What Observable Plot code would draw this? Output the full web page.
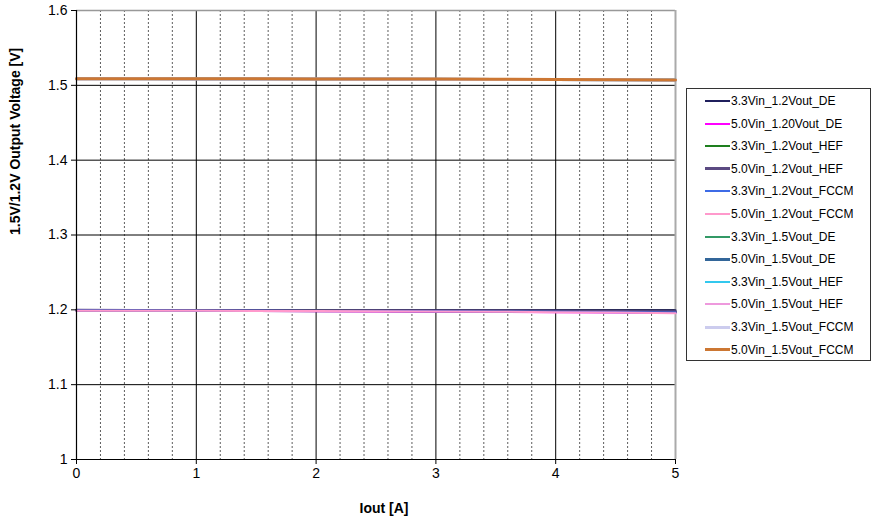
<!DOCTYPE html>
<html>
<head>
<meta charset="utf-8">
<script src="https://cdn.jsdelivr.net/npm/d3@7"></script>
<script src="https://cdn.jsdelivr.net/npm/@observablehq/plot@0.6"></script>
<style>
  html, body { margin: 0; padding: 0; background: #fff; }
  #wrap { position: relative; width: 881px; height: 527px; font-family: "Liberation Sans", Arial, sans-serif; }
  #legend { position: absolute; left: 686px; top: 88px; width: 185px; height: 273px; border: 1px solid #333; box-sizing: border-box; background: #fff; }
  .item { position: absolute; left: 18px; height: 14px; display: flex; align-items: center; font-size: 12px; color: #000; white-space: nowrap; }
  .sw { width: 25px; margin-right: 1px; }
</style>
</head>
<body>
<div id="wrap">
  <div id="chart"></div>
  <div id="legend"></div>
</div>
<script>
// ---- data ----
const iout = [0, 0.5, 1, 1.5, 2, 2.5, 3, 3.5, 4, 4.5, 5];

const seriesNames = [
  "3.3Vin_1.2Vout_DE", "5.0Vin_1.20Vout_DE", "3.3Vin_1.2Vout_HEF", "5.0Vin_1.2Vout_HEF",
  "3.3Vin_1.2Vout_FCCM", "5.0Vin_1.2Vout_FCCM", "3.3Vin_1.5Vout_DE", "5.0Vin_1.5Vout_DE",
  "3.3Vin_1.5Vout_HEF", "5.0Vin_1.5Vout_HEF", "3.3Vin_1.5Vout_FCCM", "5.0Vin_1.5Vout_FCCM"
];
const seriesColors = [
  "#1f1f5c", "#ff00ff", "#1e7f1e", "#5b4a82", "#3d6be6", "#ff99cc",
  "#339966", "#336699", "#33c8ee", "#ee99dd", "#ccccee", "#cc7733"
];
const seriesWidths = [2, 2, 2, 3, 2, 2, 2, 3, 2, 2, 3, 3];

const v_33_12_DE   = [1.1996, 1.1996, 1.1996, 1.1995, 1.1995, 1.1995, 1.1995, 1.1994, 1.1994, 1.1994, 1.1993];
const v_50_12_DE   = [1.1989, 1.1988, 1.1986, 1.1984, 1.1982, 1.1979, 1.1976, 1.1972, 1.1968, 1.1963, 1.1957];
const v_33_12_HEF  = [1.1992, 1.1991, 1.1990, 1.1989, 1.1987, 1.1985, 1.1983, 1.1980, 1.1977, 1.1973, 1.1969];
const v_50_12_HEF  = [1.1993, 1.1992, 1.1991, 1.1990, 1.1989, 1.1988, 1.1986, 1.1984, 1.1982, 1.1979, 1.1976];
const v_33_12_FCCM = [1.1991, 1.1990, 1.1989, 1.1987, 1.1985, 1.1983, 1.1980, 1.1977, 1.1973, 1.1968, 1.1963];
const v_50_12_FCCM = [1.1989, 1.1988, 1.1987, 1.1985, 1.1983, 1.1981, 1.1978, 1.1974, 1.1969, 1.1963, 1.1955];
const v_33_15_DE   = [1.5088, 1.5088, 1.5087, 1.5086, 1.5085, 1.5084, 1.5083, 1.5081, 1.5079, 1.5077, 1.5075];
const v_50_15_DE   = [1.5087, 1.5087, 1.5086, 1.5085, 1.5084, 1.5083, 1.5081, 1.5079, 1.5077, 1.5074, 1.5071];
const v_33_15_HEF  = [1.5088, 1.5088, 1.5087, 1.5086, 1.5085, 1.5083, 1.5082, 1.5080, 1.5078, 1.5076, 1.5073];
const v_50_15_HEF  = [1.5087, 1.5087, 1.5086, 1.5085, 1.5084, 1.5082, 1.5080, 1.5078, 1.5076, 1.5073, 1.5070];
const v_33_15_FCCM = [1.5086, 1.5087, 1.5086, 1.5085, 1.5084, 1.5083, 1.5081, 1.5079, 1.5077, 1.5075, 1.5072];
const v_50_15_FCCM = [1.5089, 1.5089, 1.5088, 1.5087, 1.5086, 1.5085, 1.5083, 1.5081, 1.5078, 1.5075, 1.5071];

const seriesValues = [
  v_33_12_DE, v_50_12_DE, v_33_12_HEF, v_50_12_HEF, v_33_12_FCCM, v_50_12_FCCM,
  v_33_15_DE, v_50_15_DE, v_33_15_HEF, v_50_15_HEF, v_33_15_FCCM, v_50_15_FCCM
];

const xTicks = [0, 1, 2, 3, 4, 5];
const xMinor = [0.2, 0.4, 0.6, 0.8, 1.2, 1.4, 1.6, 1.8, 2.2, 2.4, 2.6, 2.8, 3.2, 3.4, 3.6, 3.8, 4.2, 4.4, 4.6, 4.8];
const yTicks = [1, 1.1, 1.2, 1.3, 1.4, 1.5, 1.6];
const xTitle = "Iout [A]";
const yTitle = "1.5V/1.2V Output Voltage [V]";

// ---- build ----
const rows = [];
seriesNames.forEach((name, i) => {
  iout.forEach((x, j) => rows.push({series: name, idx: i, x, y: seriesValues[i][j]}));
});

const lineMarks = seriesNames.map((name, i) =>
  Plot.line(rows.filter(r => r.idx === i), {
    x: "x", y: "y", stroke: seriesColors[i], strokeWidth: seriesWidths[i], curve: "linear"
  })
);

const chart = Plot.plot({
  width: 881,
  height: 527,
  marginLeft: 76,
  marginRight: 206,
  marginTop: 10,
  marginBottom: 68,
  style: {fontFamily: "'Liberation Sans', Arial, sans-serif", fontSize: "14px", color: "#000", background: "#fff"},
  x: {domain: [0, 5]},
  y: {domain: [1, 1.6]},
  marks: [
    Plot.ruleX(xMinor, {stroke: "#000", strokeWidth: 0.8, strokeDasharray: "2,2", strokeOpacity: 0.8}),
    Plot.ruleX(xTicks.filter(d => d > 0 && d < 5), {stroke: "#000", strokeWidth: 1}),
    Plot.ruleY(yTicks.filter(d => d > 1 && d < 1.6), {stroke: "#000", strokeWidth: 1}),
    Plot.ruleY([1.6], {stroke: "#999", strokeWidth: 1.5}),
    Plot.ruleX([5], {stroke: "#aaa", strokeWidth: 2}),
    ...lineMarks,
    Plot.ruleY([1], {stroke: "#000", strokeWidth: 1.2}),
    Plot.ruleX([0], {stroke: "#000", strokeWidth: 1.2}),
    Plot.axisX({ticks: xTicks, tickSize: 5, tickPadding: 4, tickFormat: d => String(d), label: null, fontSize: 14}),
    Plot.axisY({ticks: yTicks, tickSize: 5, tickPadding: 4, tickFormat: d => String(d), label: null, fontSize: 14}),
    Plot.text([yTitle], {frameAnchor: "left", dx: -61, rotate: -90, fontWeight: "bold", fontSize: 14, text: d => d}),
    Plot.text([xTitle], {frameAnchor: "bottom", dy: 53, dx: 8, fontWeight: "bold", fontSize: 14, text: d => d})
  ]
});
document.getElementById("chart").appendChild(chart);

// ---- legend ----
const legend = document.getElementById("legend");
seriesNames.forEach((name, i) => {
  const it = document.createElement("div");
  it.className = "item";
  it.style.top = (5 + i * 22.6) + "px";
  const sw = document.createElement("div");
  sw.className = "sw";
  sw.style.height = seriesWidths[i] + "px";
  sw.style.background = seriesColors[i];
  const tx = document.createElement("span");
  tx.textContent = name;
  it.appendChild(sw);
  it.appendChild(tx);
  legend.appendChild(it);
});
</script>
</body>
</html>
